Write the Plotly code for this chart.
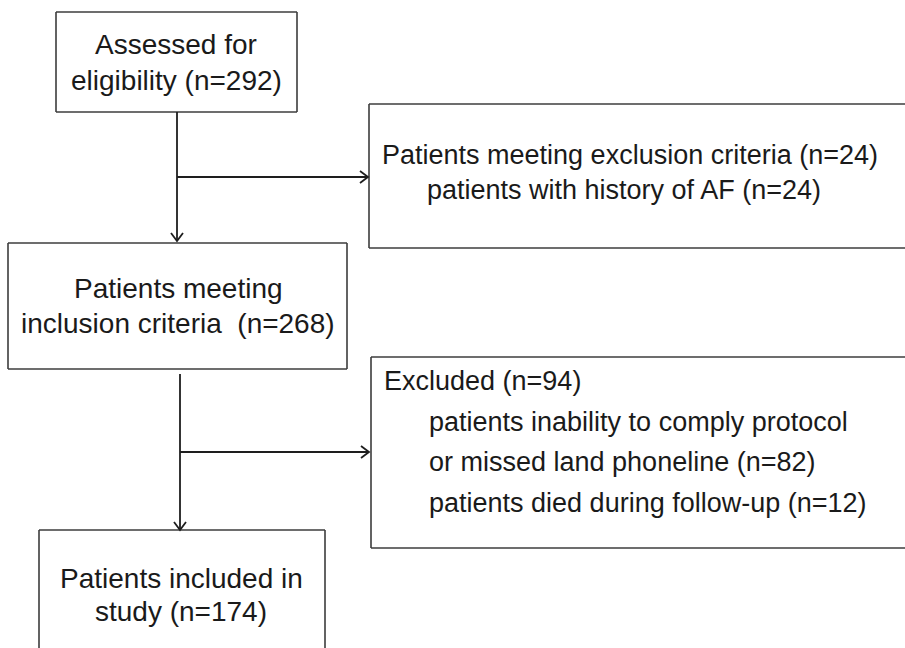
import plotly.graph_objects as go

# ---- data: flowchart boxes, texts and counts ----
box_names = ["assessed", "excl_criteria", "inclusion", "excluded", "included"]
box_left = [56, 369, 8, 371, 39]
box_top = [12, 104, 243, 357, 530]
box_right = [297, 905, 347, 905, 325]
box_bottom = [112, 248, 369, 548, 648]

text_lines = ["Assessed for", "eligibility (n=292)",
              "Patients meeting exclusion criteria (n=24)",
              "patients with history of AF (n=24)",
              "Patients meeting", "inclusion criteria  (n=268)",
              "Excluded (n=94)", "patients inability to comply protocol",
              "or missed land phoneline (n=82)",
              "patients died during follow-up (n=12)",
              "Patients included in", "study (n=174)"]
text_x = [176, 176, 380, 425, 178, 178, 382, 427, 427, 427, 181, 181]
text_y = [44, 80, 155, 190, 288, 323, 381, 422, 462, 503, 578, 611]
text_anchor = ["center", "center", "left", "left", "center", "center",
               "left", "left", "left", "left", "center", "center"]
text_size = [28, 28, 27, 27, 28, 28, 27, 27, 27, 27, 28, 28]

vert_x = [177, 180]
vert_y0 = [112, 374]
vert_y1 = [241, 530]
branch_y = [177, 452]
branch_x1 = [368, 369]

LINE = "#1e1e1e"
BORDER = "#3c3c3c"
TEXT = "#1a1a1a"

fig = go.Figure()
shapes = []


def seg(x0, y0, x1, y1, color, width):
    return dict(type="line", x0=x0, y0=y0, x1=x1, y1=y1, xref="x", yref="y",
                line=dict(color=color, width=width))


for l, t, r, b in zip(box_left, box_top, box_right, box_bottom):
    shapes.append(seg(l, t, r, t, BORDER, 1.6))   # top
    shapes.append(seg(l, t, l, b, BORDER, 1.6))   # left
    if b < 648:
        shapes.append(seg(l, b, r, b, BORDER, 1.6))  # bottom
    if r < 905:
        shapes.append(seg(r, t, r, b, BORDER, 1.6))  # right

ah = 8
for vx, y0, y1, by, bx1 in zip(vert_x, vert_y0, vert_y1, branch_y, branch_x1):
    shapes.append(seg(vx, y0, vx, y1, LINE, 1.8))
    shapes.append(dict(type="path", xref="x", yref="y",
                       path=f"M{vx-ah*0.75},{y1-ah} L{vx},{y1} L{vx+ah*0.75},{y1-ah}",
                       line=dict(color=LINE, width=1.8)))
    shapes.append(seg(vx, by, bx1, by, LINE, 1.8))
    shapes.append(dict(type="path", xref="x", yref="y",
                       path=f"M{bx1-ah},{by-ah*0.75} L{bx1},{by} L{bx1-ah},{by+ah*0.75}",
                       line=dict(color=LINE, width=1.8)))

annotations = []
for txt, x, y, anc, sz in zip(text_lines, text_x, text_y, text_anchor, text_size):
    annotations.append(dict(text=txt, x=x, y=y, xref="x", yref="y", showarrow=False,
                            xanchor=anc, yanchor="middle",
                            font=dict(family="Liberation Sans, Arial, sans-serif",
                                      size=sz, color=TEXT)))

fig.update_layout(
    width=905, height=648,
    margin=dict(l=0, r=0, t=0, b=0),
    paper_bgcolor="white", plot_bgcolor="white",
    xaxis=dict(range=[0, 905], visible=False, fixedrange=True),
    yaxis=dict(range=[648, 0], visible=False, fixedrange=True),
    shapes=shapes, annotations=annotations, showlegend=False,
)
fig.write_html("out.html", config={"displayModeBar": False},
               post_script="document.body.style.margin='0';document.body.style.overflow='hidden';")
